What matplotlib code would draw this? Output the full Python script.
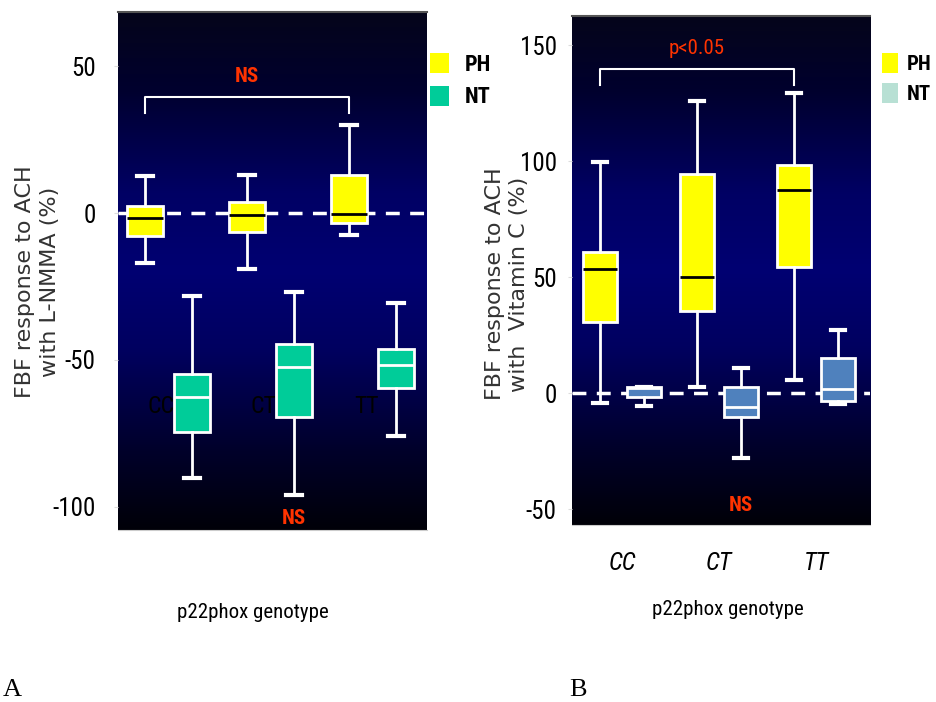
import numpy as np
import matplotlib
matplotlib.use('Agg')
import matplotlib.pyplot as plt
from matplotlib.colors import LinearSegmentedColormap
from matplotlib.patches import Patch

# genotype groups
genotypes = ['CC', 'CT', 'TT']

# Panel A: FBF response to ACH with L-NMMA (%)
a_ph_whislo = [-17.0, -19.2, -7.5]
a_ph_q1 = [-7.8, -6.4, -3.5]
a_ph_med = [-1.8, -0.7, -0.3]
a_ph_q3 = [2.4, 3.8, 13.0]
a_ph_whishi = [12.6, 13.0, 30.0]

a_nt_whislo = [-90.2, -96.0, -76.0]
a_nt_q1 = [-74.6, -69.4, -59.5]
a_nt_med = [-62.6, -52.4, -51.9]
a_nt_q3 = [-55.0, -44.7, -46.2]
a_nt_whishi = [-28.2, -26.8, -30.6]

# Panel B: FBF response to ACH with Vitamin C (%)
b_ph_whislo = [-4.3, 2.7, 5.6]
b_ph_q1 = [30.7, 35.3, 54.4]
b_ph_med = [53.4, 50.1, 87.5]
b_ph_q3 = [60.8, 94.4, 98.3]
b_ph_whishi = [99.6, 125.9, 129.4]

b_nt_whislo = [-5.5, -27.9, -4.7]
b_nt_q1 = [-1.9, -10.2, -3.3]
b_nt_med = [2.0, -6.2, 1.7]
b_nt_q3 = [2.7, 2.4, 15.2]
b_nt_whishi = [2.7, 10.9, 27.2]

# significance brackets (y of bar, y of ends) and labels
a_bracket = [39.4, 34.0]
b_bracket = [139.6, 132.7]
a_top_label, a_top_y = 'NS', 46.5
a_bottom_label, a_bottom_y = 'NS', -104.0
b_top_label, b_top_y = 'p<0.05', 148.5
b_bottom_label, b_bottom_y = 'NS', -48.3
a_cat_y = -66.0

plt.rcParams['axes.unicode_minus'] = False
NARROW = ['Roboto Condensed', 'Liberation Sans', 'DejaVu Sans']

bg_cmap = LinearSegmentedColormap.from_list(
    'bg', [(0.0, '#000008'), (0.15, '#00002a'), (0.35, '#000060'), (0.5, '#000072'),
           (0.65, '#000064'), (0.85, '#00002e'), (1.0, '#05051a')])


def make_stats(lo, q1, med, q3, hi):
    return [dict(whislo=a, q1=b, med=c, q3=d, whishi=e, fliers=[])
            for a, b, c, d, e in zip(lo, q1, med, q3, hi)]


def draw_boxes(ax, stats, pos, face, median_color):
    ax.bxp(stats, positions=pos, widths=0.35, patch_artist=True,
           showfliers=False, manage_ticks=False, capwidths=0.15,
           boxprops=dict(facecolor=face, edgecolor='white', linewidth=2),
           medianprops=dict(color=median_color, linewidth=2),
           whiskerprops=dict(color='white', linewidth=2),
           capprops=dict(color='white', linewidth=3), zorder=3)


def setup_axes(ax, xlim, ylim, yticks, pad):
    ax.set_xlim(*xlim)
    ax.set_ylim(*ylim)
    grad = np.linspace(0, 1, 256).reshape(-1, 1)
    ax.imshow(grad, cmap=bg_cmap, extent=(xlim[0], xlim[1], ylim[0], ylim[1]),
              aspect='auto', origin='lower', zorder=0)
    ax.axhline(0, color='white', linestyle=(0, (4, 3)), linewidth=2.5, zorder=2)
    ax.set_yticks(yticks)
    ax.tick_params(axis='y', length=3, color='#dddddd', pad=pad, labelsize=18)
    for lab in ax.get_yticklabels():
        lab.set_family(NARROW)
    ax.spines['left'].set_visible(False)
    ax.spines['right'].set_visible(False)
    ax.spines['top'].set_color('#555555')
    ax.spines['top'].set_linewidth(1.5)
    ax.spines['bottom'].set_color('#cccccc')


fig = plt.figure(figsize=(9.36, 7.02), dpi=100)
groups = np.arange(1, len(genotypes) + 1)

# ---- Panel A ----
axA = fig.add_axes([0.1261, 0.245, 0.3301, 0.7379])
setup_axes(axA, (0.505, 3.534), (-108, 68.5), [-100, -50, 0, 50], 13)
draw_boxes(axA, make_stats(a_ph_whislo, a_ph_q1, a_ph_med, a_ph_q3, a_ph_whishi),
           groups - 0.23, '#ffff00', 'black')
draw_boxes(axA, make_stats(a_nt_whislo, a_nt_q1, a_nt_med, a_nt_q3, a_nt_whishi),
           groups + 0.23, '#00cc99', 'white')
axA.set_xticks([])
for g, name in zip(groups, genotypes):
    axA.text(g + 0.06, a_cat_y, name, ha='right', va='center', fontsize=17,
             family=NARROW, color='black', zorder=1)
axA.plot([groups[0] - 0.23, groups[0] - 0.23, groups[2] - 0.23, groups[2] - 0.23],
         [a_bracket[1], a_bracket[0], a_bracket[0], a_bracket[1]],
         color='white', linewidth=1.5, zorder=3)
axA.text(groups[1] - 0.23, a_top_y, a_top_label, ha='center', va='center',
         color='#ff3300', fontsize=15, fontweight='bold', family=NARROW)
axA.text(groups[1] + 0.23, a_bottom_y, a_bottom_label, ha='center', va='center',
         color='#ff3300', fontsize=15, fontweight='bold', family=NARROW)
axA.set_xlabel('p22phox genotype', fontsize=15, family=NARROW)
axA.xaxis.set_label_coords(0.437, -0.14)
axA.legend(handles=[Patch(facecolor='#ffff00', edgecolor='none', label='PH'),
                    Patch(facecolor='#00cc99', edgecolor='none', label='NT')],
           loc='upper left', bbox_to_anchor=(0.459, 0.925), bbox_transform=fig.transFigure,
           frameon=False, borderpad=0, borderaxespad=0, handlelength=0.85,
           handleheight=1.05, handletextpad=0.75, labelspacing=0.45,
           prop=dict(family=NARROW, size=16, weight='bold'))

# ---- Panel B ----
axB = fig.add_axes([0.6111, 0.2521, 0.3184, 0.7251])
setup_axes(axB, (0.485, 3.557), (-56.9, 162.5), [-50, 0, 50, 100, 150], 8)
draw_boxes(axB, make_stats(b_ph_whislo, b_ph_q1, b_ph_med, b_ph_q3, b_ph_whishi),
           groups - 0.227, '#ffff00', 'black')
draw_boxes(axB, make_stats(b_nt_whislo, b_nt_q1, b_nt_med, b_nt_q3, b_nt_whishi),
           groups + 0.227, '#4f81bd', 'white')
axB.set_xticks(groups)
axB.set_xticklabels(genotypes, fontsize=18, style='italic', family=NARROW)
axB.tick_params(axis='x', length=0, pad=19)
axB.plot([groups[0] - 0.227, groups[0] - 0.227, groups[2] - 0.227, groups[2] - 0.227],
         [b_bracket[1], b_bracket[0], b_bracket[0], b_bracket[1]],
         color='white', linewidth=1.5, zorder=3)
axB.text(groups[1] - 0.227, b_top_y, b_top_label, ha='center', va='center',
         color='#ff3300', fontsize=15, family=NARROW)
axB.text(groups[1] + 0.227, b_bottom_y, b_bottom_label, ha='center', va='center',
         color='#ff3300', fontsize=15, fontweight='bold', family=NARROW)
axB.set_xlabel('p22phox genotype', fontsize=15, family=NARROW)
axB.xaxis.set_label_coords(0.523, -0.147)
axB.legend(handles=[Patch(facecolor='#ffff00', edgecolor='none', label='PH'),
                    Patch(facecolor='#b8e0d4', edgecolor='none', label='NT')],
           loc='upper left', bbox_to_anchor=(0.942, 0.924), bbox_transform=fig.transFigure,
           frameon=False, borderpad=0, borderaxespad=0, handlelength=0.8,
           handleheight=1.05, handletextpad=0.4, labelspacing=0.45,
           prop=dict(family=NARROW, size=15, weight='bold'))

# y labels
fig.text(37.5 / 936, 1 - 282 / 702, 'FBF response to ACH\nwith L-NMMA (%)',
         rotation=90, ha='center', va='center', fontsize=16, linespacing=1.3,
         color='#333333')
fig.text(507 / 936, 1 - 284 / 702, 'FBF response to ACH\nwith  Vitamin C (%)',
         rotation=90, ha='center', va='center', fontsize=16, linespacing=1.3,
         color='#333333')

# panel letters
fig.text(12 / 936, 1 - 690 / 702, 'A', ha='center', va='center', fontsize=19,
         family=['Liberation Serif', 'DejaVu Serif'])
fig.text(578 / 936, 1 - 690 / 702, 'B', ha='center', va='center', fontsize=19,
         family=['Liberation Serif', 'DejaVu Serif'])

fig.savefig('out.png', dpi=100)
